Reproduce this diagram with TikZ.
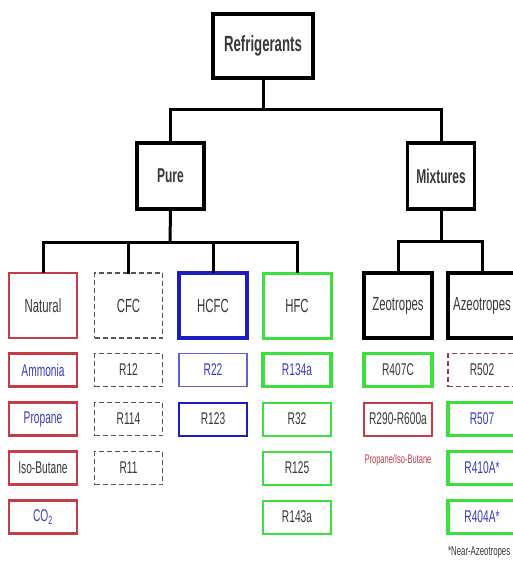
\documentclass[tikz,border=0pt]{standalone}
\usepackage{fontspec}
\setmainfont{Liberation Sans}[FakeStretch=0.6]
\definecolor{cred}{HTML}{C43C48}
\definecolor{cblue}{HTML}{1C1CC0}
\definecolor{cgreen}{HTML}{3CE03C}
\definecolor{tblue}{HTML}{3A3ABE}
\definecolor{tgray}{HTML}{383838}
\definecolor{dgray}{HTML}{555555}
\definecolor{cpurple}{HTML}{8A3C6C}
\begin{document}
\begin{tikzpicture}[x=1pt,y=-1pt,
  box/.style={draw,inner sep=0pt,align=center,text=tgray},
  topbox/.style={box,line width=3.5pt,minimum width=100pt,minimum height=64pt,font=\fontsize{22}{24}\selectfont\bfseries},
  midbox/.style={box,line width=3.5pt,minimum width=67pt,minimum height=66pt,font=\fontsize{20}{22}\selectfont\bfseries},
  catbox/.style={box,minimum width=68pt,minimum height=65pt,font=\fontsize{19}{21}\selectfont},
  smallbox/.style={box,minimum width=68pt,minimum height=33pt,font=\fontsize{17}{19}\selectfont},
  dsh/.style={dash pattern=on 5pt off 3pt},
  conn/.style={line width=3pt,line join=miter,line cap=rect}]
\useasboundingbox (0,0) rectangle (513,567);
% top
\node[topbox] (ref) at (263,46) {Refrigerants};
\node[midbox] (pure) at (170.5,176) {Pure};
\node[midbox] (mix) at (441,176) {Mixtures};
\coordinate (b1) at (263,110);
\coordinate (b2) at (170,242);
\coordinate (b3) at (441,241);
% categories
\node[catbox,draw=cred,line width=2.5pt] (nat) at (43,305.5) {Natural};
\node[catbox,draw=dgray,dsh,line width=1.5pt] (cfc) at (128.5,305.5) {CFC};
\node[catbox,draw=cblue,line width=3.5pt] (hcfc) at (213,305.5) {HCFC};
\node[catbox,draw=cgreen,line width=3pt] (hfc) at (297,305.5) {HFC};
\node[catbox,draw=black,line width=3.5pt] (zeo) at (398,305.5) {Zeotropes};
\node[catbox,draw=black,line width=3.5pt] (aze) at (482,305.5) {Azeotropes};
% connectors
\draw[conn] (ref.south) -- (b1);
\draw[conn] (pure.north) -- (pure.north |- b1) -- (mix.north |- b1) -- (mix.north);
\draw[conn] (pure.south) -- (b2);
\draw[conn] (nat.north) -- (nat.north |- b2) -- (hfc.north |- b2) -- (hfc.north);
\draw[conn] (cfc.north) -- (cfc.north |- b2);
\draw[conn] (hcfc.north) -- (hcfc.north |- b2);
\draw[conn] (mix.south) -- (b3);
\draw[conn] (zeo.north) -- (zeo.north |- b3) -- (aze.north |- b3) -- (aze.north);
% Natural column
\node[smallbox,draw=cred,line width=2.5pt,text=tblue] (n1) at (43,370) {Ammonia};
\node[smallbox,draw=cred,line width=2.5pt,text=tblue] (n2) at (43,419) {Propane};
\node[smallbox,draw=cred,line width=2.5pt] (n3) at (43,468) {Iso-Butane};
\node[smallbox,draw=cred,line width=2.5pt,text=tblue] (n4) at (43,517) {CO\textsubscript{2}};
% CFC column
\node[smallbox,draw=dgray,dsh,line width=1.5pt] (c1) at (128.5,370) {R12};
\node[smallbox,draw=dgray,dsh,line width=1.5pt] (c2) at (128.5,419) {R114};
\node[smallbox,draw=dgray,dsh,line width=1.5pt] (c3) at (128.5,468) {R11};
% HCFC column
\node[smallbox,draw=cblue!70,line width=1.5pt,text=tblue] (h1) at (213,370) {R22};
\node[smallbox,draw=cblue,line width=2pt] (h2) at (213,419) {R123};
% HFC column
\node[smallbox,draw=cgreen,line width=3.5pt,text=tblue] (f1) at (297,370) {R134a};
\node[smallbox,draw=cgreen,line width=2pt] (f2) at (297,419) {R32};
\node[smallbox,draw=cgreen,line width=2pt] (f3) at (297,468) {R125};
\node[smallbox,draw=cgreen,line width=2pt] (f4) at (297,517) {R143a};
% Zeotropes column
\node[smallbox,draw=cgreen,line width=3.5pt] (z1) at (398,370) {R407C};
\node[smallbox,draw=cred,line width=2pt] (z2) at (398,419) {R290-R600a};
\node[text=cred,font=\fontsize{12.5}{13}\selectfont,inner sep=0pt] (zn) at (398,460) {Propane/Iso-Butane};
% Azeotropes column
\node[smallbox,draw=cpurple,dsh,line width=1.5pt] (a1) at (482,370) {R502};
\node[smallbox,draw=cgreen,line width=3.5pt,text=tblue] (a2) at (482,419) {R507};
\node[smallbox,draw=cgreen,line width=3.5pt,text=tblue] (a3) at (482,468) {R410A*};
\node[smallbox,draw=cgreen,line width=3.5pt,text=tblue] (a4) at (482,517) {R404A*};
\node[anchor=west,text=tgray,font=\fontsize{13}{14}\selectfont,inner sep=0pt] (nz) at (448,552) {*Near-Azeotropes};
\end{tikzpicture}
\end{document}
